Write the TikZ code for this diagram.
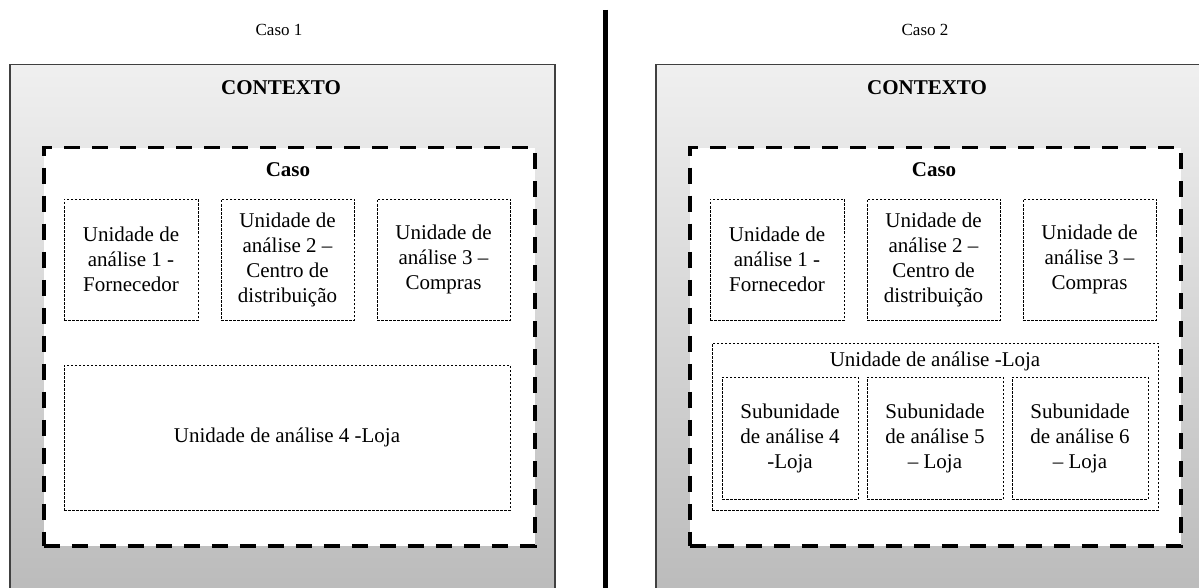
\documentclass[tikz,border=0pt]{standalone}
\usepackage{fontspec}
\setmainfont{Liberation Serif}
\usetikzlibrary{positioning}
\newcommand{\txtbig}{\fontsize{21}{25}\selectfont}
\tikzset{
  ctxbox/.style={draw=black!75, line width=1.5pt, top color=black!6, bottom color=black!27,
    minimum width=545pt, minimum height=536pt, inner sep=0pt, anchor=north west},
  casebox/.style={draw=black, line width=3.5pt, dash pattern=on 16pt off 12pt, fill=white,
    minimum width=491pt, minimum height=398pt, inner sep=0pt, anchor=north west},
  unitbox/.style={draw=black, line width=0.8pt, dash pattern=on 2.5pt off 1.5pt, fill=white,
    inner sep=0pt, align=center, font=\txtbig},
  title/.style={font=\txtbig\bfseries},
  caption/.style={font=\fontsize{17}{20}\selectfont}
}
\begin{document}
\begin{tikzpicture}[x=1pt, y=-1pt]
    \useasboundingbox (0,0) rectangle (1199,588);

    % Divider
    \draw[line width=4.5pt] (605.5,10) -- (605.5,588);

    % Case 1
    \node[caption] (cap1) at (279,30) {Caso 1};
    \node[ctxbox] (ctx1) at (9,64) {};
    \node[title] (ctxt1) at (281,88) {CONTEXTO};
    \node[casebox] (case1) at (42,146) {};
    \node[title] (caset1) at (288,170) {Caso};
    \node[unitbox, minimum width=134pt, minimum height=121pt] (ua1) at (131,259.5) {Unidade de\\análise 1 -\\Fornecedor};
    \node[unitbox, minimum width=133pt, minimum height=121pt] (ua2) at (287.5,259.5) {Unidade de\\análise 2 –\\Centro de\\distribuição};
    \node[unitbox, minimum width=133pt, minimum height=121pt] (ua3) at (443.5,259.5) {Unidade de\\análise 3 –\\Compras};
    \node[unitbox, minimum width=446pt, minimum height=145pt] (ua4) at (287,437.5) {Unidade de análise 4 -Loja};

    % Case 2
    \node[caption] (cap2) at (925,30) {Caso 2};
    \node[ctxbox] (ctx2) at (655,64) {};
    \node[title] (ctxt2) at (927,88) {CONTEXTO};
    \node[casebox] (case2) at (688,146) {};
    \node[title] (caset2) at (934,170) {Caso};
    \node[unitbox, minimum width=134pt, minimum height=121pt] (ub1) at (777,259.5) {Unidade de\\análise 1 -\\Fornecedor};
    \node[unitbox, minimum width=133pt, minimum height=121pt] (ub2) at (933.5,259.5) {Unidade de\\análise 2 –\\Centro de\\distribuição};
    \node[unitbox, minimum width=133pt, minimum height=121pt] (ub3) at (1089.5,259.5) {Unidade de\\análise 3 –\\Compras};
    \node[unitbox, minimum width=446pt, minimum height=167pt] (loja) at (935,426.5) {};
    \node[font=\txtbig] (lojat) at (935,361) {Unidade de análise -Loja};
    \node[unitbox, minimum width=136pt, minimum height=122pt] (sub4) at (790,438) {Subunidade\\de análise 4\\-Loja};
    \node[unitbox, minimum width=136pt, minimum height=122pt] (sub5) at (935,438) {Subunidade\\de análise 5\\– Loja};
    \node[unitbox, minimum width=136pt, minimum height=122pt] (sub6) at (1080,438) {Subunidade\\de análise 6\\– Loja};
\end{tikzpicture}
\end{document}
